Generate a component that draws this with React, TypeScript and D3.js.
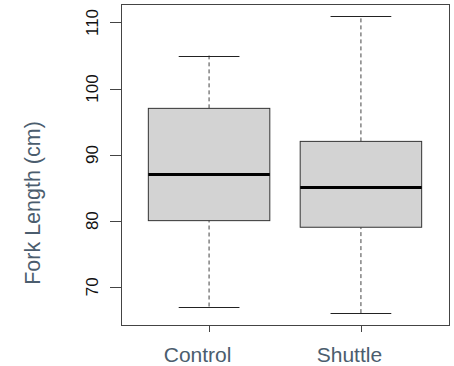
import React, { useEffect, useRef } from 'react';
import * as d3 from 'd3';

const groups = ['Control', 'Shuttle'];
const lowerWhisker = [67, 66];
const q1 = [80, 79];
const medians = [87, 85];
const q3 = [97, 92];
const upperWhisker = [105, 111];
const yTicks = [70, 80, 90, 100, 110];

export default function App() {
  const ref = useRef<SVGSVGElement | null>(null);

  useEffect(() => {
    const el = ref.current;
    if (!el) return;
    const svg = d3.select(el);
    svg.selectAll('*').remove();

    const left = 121, right = 449, top = 4, bottom = 325;
    const font = 'Liberation Sans, Arial, sans-serif';
    const slate = '#4b5d6e';

    // R style: range padded by 4% on each side
    const x = d3.scaleLinear().domain([0.42, 2.58]).range([left, right]);
    const y = d3.scaleLinear().domain([64.2, 112.8]).range([bottom, top]);

    const rows = groups.map((g, i) => ({
      name: g, pos: i + 1,
      lo: lowerWhisker[i], q1: q1[i], med: medians[i], q3: q3[i], hi: upperWhisker[i]
    }));

    const g = svg.append('g');

    // whiskers (dashed)
    g.selectAll('line.wl').data(rows).enter().append('line')
      .attr('x1', d => x(d.pos)).attr('x2', d => x(d.pos))
      .attr('y1', d => y(d.lo)).attr('y2', d => y(d.q1))
      .attr('stroke', '#444').attr('stroke-dasharray', '4,3');
    g.selectAll('line.wh').data(rows).enter().append('line')
      .attr('x1', d => x(d.pos)).attr('x2', d => x(d.pos))
      .attr('y1', d => y(d.q3)).attr('y2', d => y(d.hi))
      .attr('stroke', '#444').attr('stroke-dasharray', '4,3');

    // caps
    ['lo', 'hi'].forEach(k => {
      g.selectAll(`line.cap-${k}`).data(rows).enter().append('line')
        .attr('x1', d => x(d.pos - 0.2)).attr('x2', d => x(d.pos + 0.2))
        .attr('y1', (d: any) => Math.round(y(d[k])) + 0.5)
        .attr('y2', (d: any) => Math.round(y(d[k])) + 0.5)
        .attr('stroke', '#222');
    });

    // boxes
    g.selectAll('rect.box').data(rows).enter().append('rect')
      .attr('x', d => x(d.pos - 0.4))
      .attr('y', d => y(d.q3))
      .attr('width', d => x(d.pos + 0.4) - x(d.pos - 0.4))
      .attr('height', d => y(d.q1) - y(d.q3))
      .attr('fill', '#d3d3d3')
      .attr('stroke', '#333');

    // medians
    g.selectAll('line.med').data(rows).enter().append('line')
      .attr('x1', d => x(d.pos - 0.4)).attr('x2', d => x(d.pos + 0.4))
      .attr('y1', d => y(d.med)).attr('y2', d => y(d.med))
      .attr('stroke', '#000').attr('stroke-width', 3);

    // frame
    svg.append('rect')
      .attr('x', left + 0.5).attr('y', top + 0.5)
      .attr('width', right - left).attr('height', bottom - top)
      .attr('fill', 'none').attr('stroke', '#444');

    // y ticks
    yTicks.forEach(t => {
      const yy = Math.round(y(t)) + 0.5;
      svg.append('line')
        .attr('x1', left - 11).attr('x2', left).attr('y1', yy).attr('y2', yy)
        .attr('stroke', '#444');
      svg.append('text')
        .attr('transform', `translate(98,${y(t)}) rotate(-90)`)
        .attr('text-anchor', 'middle')
        .attr('font-family', font).attr('font-size', 17)
        .attr('fill', '#111')
        .text(t);
    });

    // x ticks and labels (labels sit a little left of the ticks, as in the original)
    rows.forEach(d => {
      const xx = Math.round(x(d.pos)) + 0.5;
      svg.append('line')
        .attr('x1', xx).attr('x2', xx).attr('y1', bottom).attr('y2', bottom + 7)
        .attr('stroke', '#444');
      svg.append('text')
        .attr('x', x(d.pos) - 11.5).attr('y', 361.5)
        .attr('text-anchor', 'middle')
        .attr('font-family', font).attr('font-size', 21)
        .attr('fill', slate)
        .text(d.name);
    });

    // y title
    svg.append('text')
      .attr('transform', `translate(40,${203}) rotate(-90)`)
      .attr('text-anchor', 'middle')
      .attr('font-family', font).attr('font-size', 21.5)
      .attr('fill', slate)
      .text('Fork Length (cm)');
  }, []);

  return (
    <svg ref={ref} width={454} height={366}
      style={{ position: 'absolute', left: 0, top: 0, background: '#fff' }} />
  );
}
